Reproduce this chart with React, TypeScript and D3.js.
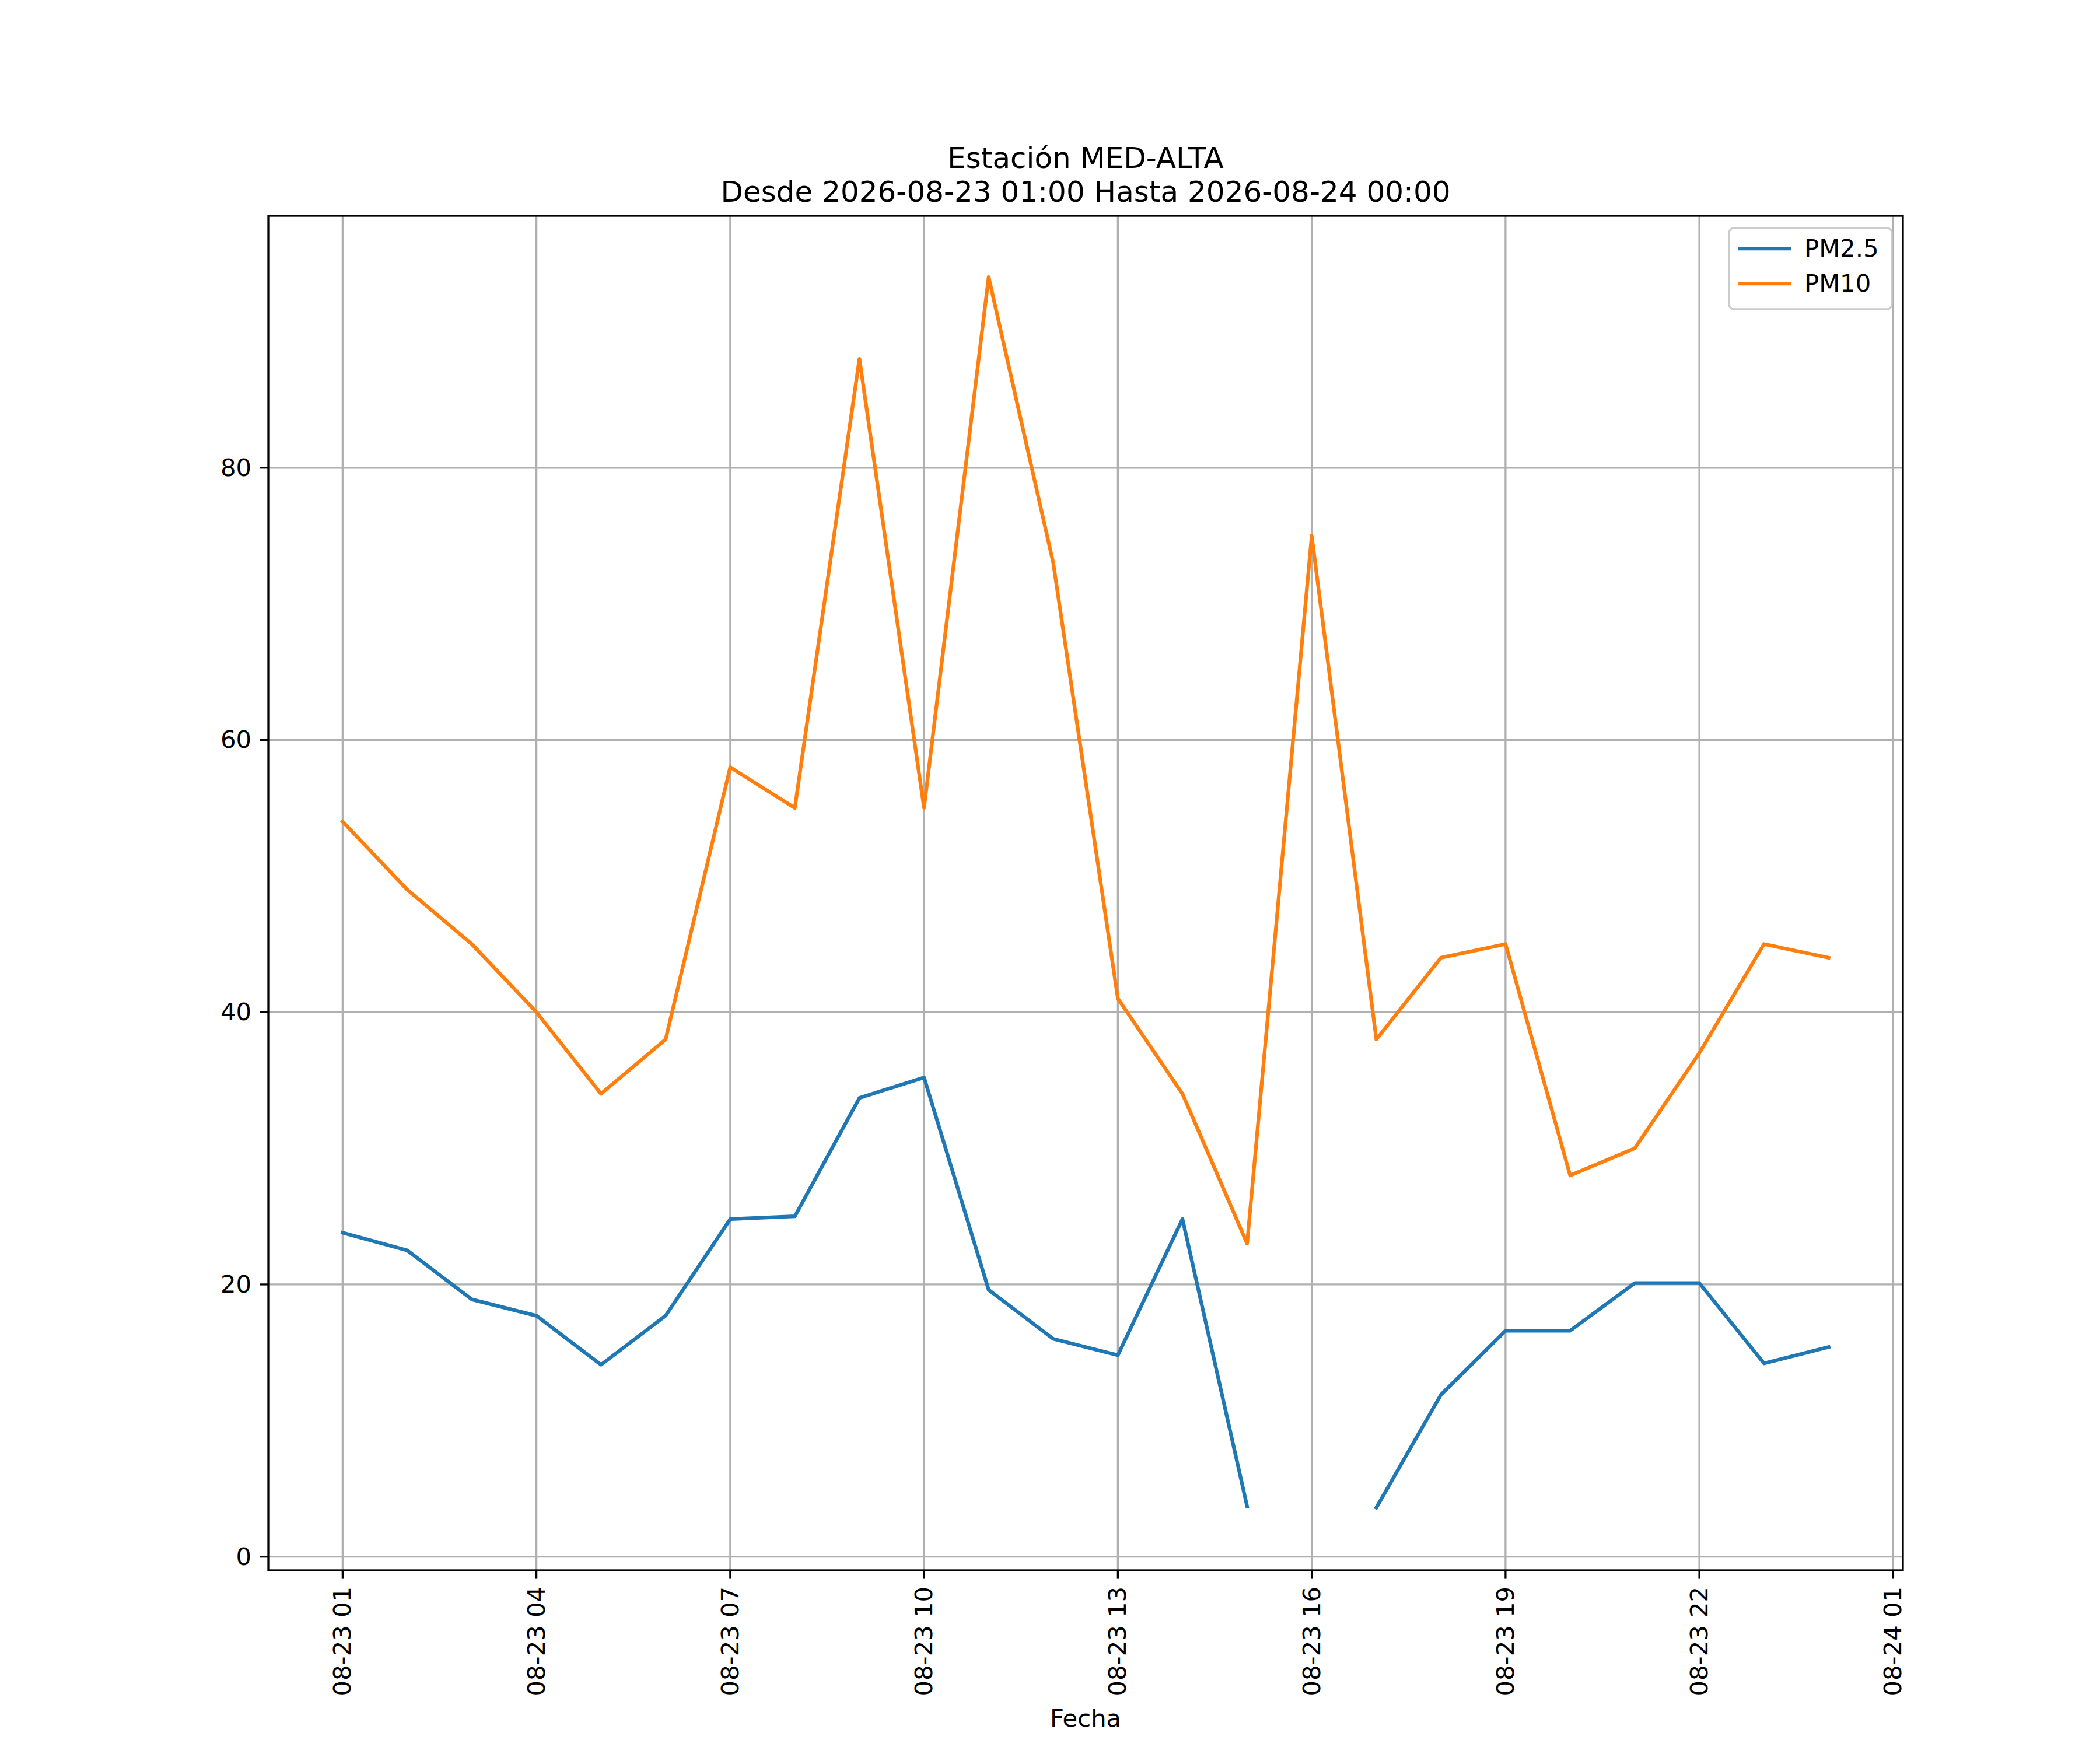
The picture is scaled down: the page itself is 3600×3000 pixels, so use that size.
import React from 'react';
import * as d3 from 'd3';

const hours = d3.range(24).map(i => new Date(2026, 7, 23, 1 + i));
const pm25: (number | null)[] = [23.8, 22.5, 18.9, 17.7, 14.1, 17.7, 24.8, 25, 33.7, 35.2, 19.6, 16, 14.8, 24.8, 3.7, null, 3.6, 11.9, 16.6, 16.6, 20.1, 20.1, 14.2, 15.4];
const pm10: (number | null)[] = [54, 49, 45, 40, 34, 38, 58, 55, 88, 55, 94, 73, 41, 34, 23, 75, 38, 44, 45, 28, 30, 37, 45, 44];
const yTicks = [0, 20, 40, 60, 80];
const xTicks = d3.range(9).map(i => new Date(2026, 7, 23, 1 + i * 3));

const W = 3600, H = 3000;
const L = 452, R = 3254, T = 362, B = 2684;
const font = 'DejaVu Sans, sans-serif';

export default function App() {
  const h = 3600 * 1000;
  const x = d3.scaleTime()
    .domain([new Date(+hours[0] - 1.15 * h), new Date(+hours[23] + 1.15 * h)])
    .range([L, R]);
  const y = d3.scaleLinear().domain([-1, 98.5]).range([B, T]);
  const line = d3.line<number | null>()
    .defined(d => d != null)
    .x((_, i) => x(hours[i]))
    .y(d => y(d as number));
  const fmt = d3.timeFormat('%m-%d %H');

  return (
    <svg width={W} height={H} style={{ display: 'block', background: '#fff' }} fontFamily={font}>
      <text x={(L + R) / 2} y={280} fontSize={50} textAnchor="middle">Estación MED-ALTA</text>
      <text x={(L + R) / 2} y={338} fontSize={50} textAnchor="middle">Desde 2026-08-23 01:00 Hasta 2026-08-24 00:00</text>
      {xTicks.map((t, i) => (
        <g key={i}>
          <line x1={x(t)} x2={x(t)} y1={T} y2={B} stroke="#b0b0b0" strokeWidth={3.3} />
          <line x1={x(t)} x2={x(t)} y1={B} y2={B + 14.6} stroke="#000" strokeWidth={3.3} />
          <text transform={`translate(${x(t) + 14},${B + 28}) rotate(-90)`} fontSize={41.7} textAnchor="end">{fmt(t)}</text>
        </g>
      ))}
      {yTicks.map(v => (
        <g key={v}>
          <line x1={L} x2={R} y1={y(v)} y2={y(v)} stroke="#b0b0b0" strokeWidth={3.3} />
          <line x1={L - 14.6} x2={L} y1={y(v)} y2={y(v)} stroke="#000" strokeWidth={3.3} />
          <text x={L - 29} y={y(v) + 14} fontSize={41.7} textAnchor="end">{v}</text>
        </g>
      ))}
      <path d={line(pm25) || ''} fill="none" stroke="#1f77b4" strokeWidth={6.25} strokeLinejoin="round" strokeLinecap="square" />
      <path d={line(pm10) || ''} fill="none" stroke="#ff7f0e" strokeWidth={6.25} strokeLinejoin="round" strokeLinecap="square" />
      <rect x={L} y={T} width={R - L} height={B - T} fill="none" stroke="#000" strokeWidth={3.3} />
      <text x={(L + R) / 2} y={2952} fontSize={41.7} textAnchor="middle">Fecha</text>
      <g>
        <rect x={2956} y={383} width={279} height={139} rx={8} fill="#fff" fillOpacity={0.8} stroke="#ccc" strokeWidth={3.3} />
        <line x1={2972} x2={3062} y1={418} y2={418} stroke="#1f77b4" strokeWidth={6.25} />
        <text x={3085} y={432} fontSize={41.7}>PM2.5</text>
        <line x1={2972} x2={3062} y1={478} y2={478} stroke="#ff7f0e" strokeWidth={6.25} />
        <text x={3085} y={492} fontSize={41.7}>PM10</text>
      </g>
    </svg>
  );
}
